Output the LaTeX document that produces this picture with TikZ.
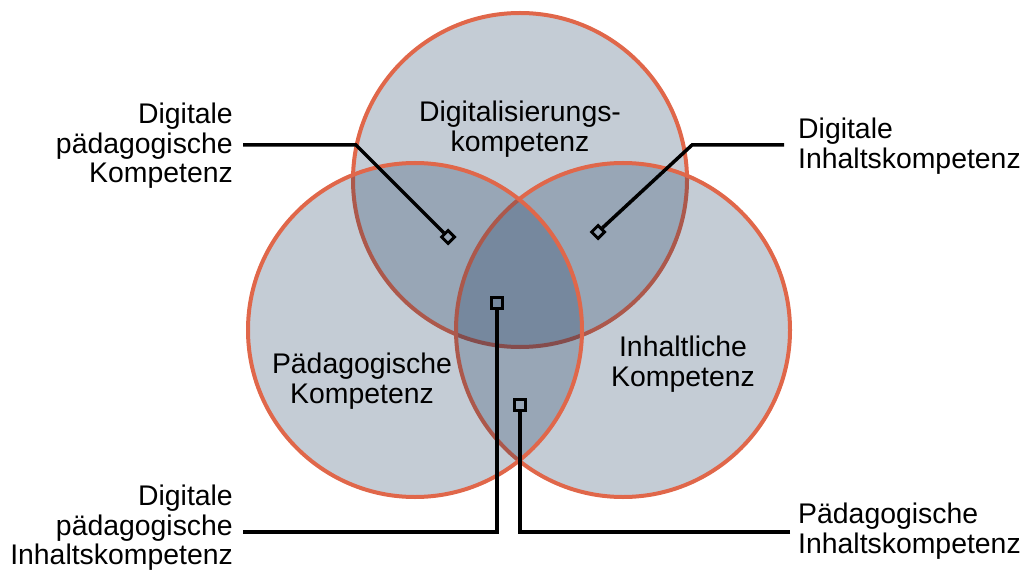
\documentclass[tikz,border=0pt]{standalone}
\usepackage{fontspec}
\setmainfont{Liberation Sans}
\usetikzlibrary{shapes.geometric}
\definecolor{vennrand}{RGB}{224,103,74}
\definecolor{vennfill}{RGB}{9,42,80}
\tikzstyle{kreis} = [circle, draw=vennrand, line width=4bp,
    fill=vennfill, fill opacity=0.24, draw opacity=1, minimum size=334bp]
\tikzstyle{raute} = [diamond, draw, line width=3bp, inner sep=0pt,
    minimum size=14bp]
\tikzstyle{punkt} = [rectangle, draw, line width=3bp, inner sep=0pt,
    minimum size=10.5bp]
\tikzset{beschr/.style={font=\fontsize{28.5}{29.5}\selectfont, inner sep=0pt},
    leitung/.style={line width=3.5bp, line join=miter}}

\begin{document}
\begin{tikzpicture}[x=1bp,y=-1bp]
\useasboundingbox (0,0) rectangle (1025,570);
    %three circles
    \node[kreis] (dig) at (520,180) {};
    \node[kreis] (inh) at (623,330) {};
    \node[kreis] (paed) at (415,330) {};
    \node[beschr,align=center] (tdig) at (520,129) {Digitalisierungs-\\kompetenz};
    \node[beschr,align=center] (tpaed) at (362,381) {Pädagogische\\Kompetenz};
    \node[beschr,align=center] (tinh) at (683,364) {Inhaltliche\\Kompetenz};
    %markers in the overlaps
    \node[raute] (mDP) at (448,237) {};
    \node[raute] (mDI) at (598,232) {};
    \node[punkt] (mDPI) at (497,303) {};
    \node[punkt] (mPI) at (520,405) {};
    %outer labels
    \node[beschr,align=right,anchor=east] (lDP) at (233,146) {Digitale\\pädagogische\\Kompetenz};
    \node[beschr,align=left,anchor=west] (lDI) at (798,146) {Digitale\\Inhaltskompetenz};
    \node[beschr,align=right,anchor=east] (lDPI) at (233,528) {Digitale\\pädagogische\\Inhaltskompetenz};
    \node[beschr,align=left,anchor=west] (lPI) at (798,531) {Pädagogische\\Inhaltskompetenz};
    %leader lines
    \coordinate (eDP) at (243,145);
    \coordinate (kDP) at (356,145);
    \coordinate (eDI) at (784,145);
    \coordinate (kDI) at (692,145);
    \coordinate (eDPI) at (243,532);
    \coordinate (ePI) at (790,532);
    \draw[leitung] (eDP) -- (kDP) -- (mDP);
    \draw[leitung] (eDI) -- (kDI) -- (mDI);
    \draw[leitung] (eDPI) -| (mDPI);
    \draw[leitung] (ePI) -| (mPI);
\end{tikzpicture}
\end{document}
